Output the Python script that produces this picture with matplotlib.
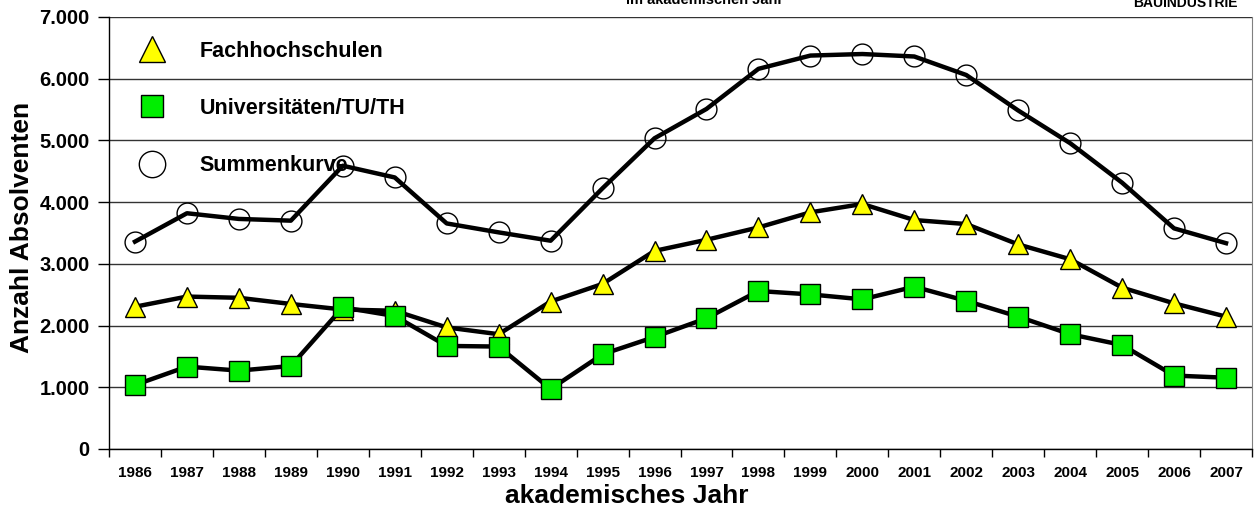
import matplotlib
matplotlib.use("Agg")
import matplotlib.pyplot as plt
from matplotlib.lines import Line2D
from matplotlib.ticker import FixedLocator

plt.rcParams['font.family'] = ['Liberation Sans', 'DejaVu Sans']

years = ['1986', '1987', '1988', '1989', '1990', '1991', '1992', '1993', '1994', '1995', '1996',
         '1997', '1998', '1999', '2000', '2001', '2002', '2003', '2004', '2005', '2006', '2007']
fachhochschulen = [2305, 2470, 2450, 2350, 2260, 2240, 1970, 1860, 2390, 2675, 3210,
                   3390, 3590, 3835, 3970, 3710, 3645, 3315, 3075, 2615, 2360, 2145]
universitaeten = [1037, 1335, 1270, 1345, 2295, 2155, 1670, 1660, 972, 1535, 1815,
                  2118, 2560, 2505, 2425, 2630, 2400, 2145, 1860, 1685, 1190, 1155]
summenkurve = [3360, 3820, 3728, 3700, 4590, 4400, 3655, 3510, 3375, 4225, 5035,
               5510, 6160, 6375, 6400, 6360, 6060, 5485, 4955, 4315, 3575, 3335]
y_ticks = [0, 1000, 2000, 3000, 4000, 5000, 6000, 7000]
y_tick_labels = ['0', '1.000', '2.000', '3.000', '4.000', '5.000', '6.000', '7.000']
labels = ['Fachhochschulen', 'Universitäten/TU/TH', 'Summenkurve']

W, H = 1255, 526
fig = plt.figure(figsize=(W / 100, H / 100), dpi=100)
L, R, B, T = 109, 1252, 449, 17
ax = fig.add_axes([L / W, 1 - B / H, (R - L) / W, (B - T) / H])

x = list(range(len(years)))
ax.plot(x, summenkurve, color='black', lw=3.2, marker='o', ms=15, mfc='none',
        mec='black', mew=1.0, zorder=3)
ax.plot(x, fachhochschulen, color='black', lw=3.2, marker='^', ms=15, mfc='#ffff00',
        mec='black', mew=1.0, zorder=4)
ax.plot(x, universitaeten, color='black', lw=3.2, marker='s', ms=14, mfc='#00ee00',
        mec='black', mew=1.0, zorder=5)

ax.set_xlim(-0.5, len(years) - 0.5)
ax.set_ylim(0, 7000)
ax.set_yticks(y_ticks)
ax.set_yticklabels(y_tick_labels, fontsize=14.5, fontweight='bold')
ax.set_xticks(x)
ax.set_xticklabels(years, fontsize=11, fontweight='bold')
ax.xaxis.set_minor_locator(FixedLocator([i - 0.5 for i in range(len(years) + 1)]))
ax.tick_params(axis='x', which='major', length=0, pad=12)
ax.tick_params(axis='x', which='minor', length=6, width=1, direction='out')
ax.tick_params(axis='y', which='major', length=8, width=1, direction='out', pad=6)

ax.yaxis.grid(True, color='#333333', lw=1.0)
ax.set_axisbelow(True)
ax.spines['top'].set_visible(False)
ax.spines['right'].set_color('#808080')
ax.spines['left'].set_linewidth(1.0)
ax.spines['bottom'].set_linewidth(1.0)

handles = [
    Line2D([], [], ls='none', marker='^', ms=19, mfc='#ffff00', mec='black', mew=1.0),
    Line2D([], [], ls='none', marker='s', ms=16, mfc='#00ee00', mec='black', mew=1.0),
    Line2D([], [], ls='none', marker='o', ms=19, mfc='white', mec='black', mew=1.0),
]
leg = fig.legend(handles, labels, loc='upper left', bbox_to_anchor=(120 / W, 1 - 30 / H),
                 frameon=False, prop={'weight': 'bold', 'size': 15.5},
                 labelspacing=1.68, handlelength=2.0, handletextpad=1.2, borderpad=0)
leg.set_zorder(10)

fig.text(22 / W, 1 - 227 / H, 'Anzahl Absolventen', rotation=90, ha='center', va='center',
         fontsize=19, fontweight='bold')
fig.text(627 / W, 1 - 496 / H, 'akademisches Jahr', ha='center', va='center',
         fontsize=19, fontweight='bold')

# header texts, cut off at the top edge as in the reference
fig.text(705 / W, 1 - 4 / H, 'im akademischen Jahr', ha='center', va='baseline',
         fontsize=10.5, fontweight='bold')
fig.text(1185 / W, 1 - 7 / H, 'BAUINDUSTRIE', ha='center', va='baseline',
         fontsize=10, fontweight='bold')

fig.savefig('out.png', dpi=100)
